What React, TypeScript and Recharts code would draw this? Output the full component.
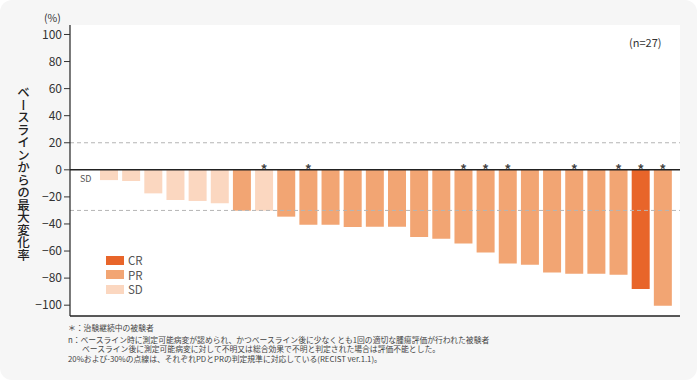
import React from 'react'
import { BarChart, Bar, XAxis, YAxis, CartesianGrid, ReferenceLine, Cell, LabelList } from 'recharts'

const patients = ['1', '2', '3', '4', '5', '6', '7', '8', '9', '10', '11', '12', '13', '14', '15', '16', '17', '18', '19', '20', '21', '22', '23', '24', '25', '26']
const maxChange = [-7.6, -8.3, -17.4, -22.3, -23, -24.7, -30.2, -30.2, -34.6, -40.5, -40.5, -42.2, -42, -42, -49.6, -51, -54.5, -61.1, -69.2, -70.2, -75.8, -76.8, -76.8, -77.5, -88, -100.4]
const response = ['SD', 'SD', 'SD', 'SD', 'SD', 'SD', 'PR', 'SD', 'PR', 'PR', 'PR', 'PR', 'PR', 'PR', 'PR', 'PR', 'PR', 'PR', 'PR', 'PR', 'PR', 'PR', 'PR', 'PR', 'CR', 'PR']
const ongoing = [false, false, false, false, false, false, false, true, false, true, false, false, false, false, false, false, true, true, true, false, false, true, false, true, true, true]
const yTicks = [100, 80, 60, 40, 20, 0, -20, -40, -60, -80, -100]
const legendItems = ['CR', 'PR', 'SD']

const colors: Record<string, string> = {
  CR: '#e8652a',
  PR: '#f2a573',
  SD: '#fbd7c0',
}

const data = patients.map((id, i) => ({
  id,
  value: maxChange[i],
  response: response[i],
  mark: ongoing[i] ? '*' : '',
}))

const font = '"Noto Sans CJK JP", "Noto Sans", sans-serif'

function Asterisk(props: any) {
  const { x, y, width, height, value } = props
  if (!value) return null
  const top = Math.min(y, y + height)
  return (
    <text x={x + width / 2} y={top + 4} textAnchor="middle" fontSize={13} fontWeight={700} fill="#444" fontFamily={font}>
      *
    </text>
  )
}

export default function App() {
  return (
    <div style={{ position: 'absolute', left: 0, top: 0, width: 700, height: 382, background: '#fff', fontFamily: font }}>
      <div style={{ position: 'absolute', left: 0, top: 0, width: 697, height: 380, background: '#f6f6f6', borderRadius: 12 }} />
      <BarChart width={700} height={382} data={data} margin={{ top: 25, right: 20, bottom: 36, left: 0 }} style={{ position: 'absolute', left: 0, top: 0 }}>
        <CartesianGrid fill="#fff" horizontal={false} vertical={false} stroke="none" />
        <XAxis dataKey="id" tick={false} tickLine={false} axisLine={{ stroke: '#222', strokeWidth: 1.5 }} padding={{ left: 28, right: 6 }} height={30} />
        <YAxis
          domain={[-108, 107]}
          ticks={yTicks}
          interval={0}
          width={70}
          tickSize={6}
          tickLine={{ stroke: '#333' }}
          axisLine={{ stroke: '#222', strokeWidth: 1.2 }}
          tick={{ fontSize: 12, fill: '#333', fontFamily: font }}
          tickFormatter={(v: number) => (v < 0 ? '\u2212' + Math.abs(v) : String(v))}
        />
        <ReferenceLine y={20} stroke="#b5b5b5" strokeDasharray="4 3" />
        <ReferenceLine y={-30} stroke="#b5b5b5" strokeDasharray="4 3" />
        <Bar dataKey="value" barSize={18} isAnimationActive={false}>
          {data.map((d) => (
            <Cell key={d.id} fill={colors[d.response]} />
          ))}
          <LabelList dataKey="mark" content={Asterisk} />
        </Bar>
        <ReferenceLine y={0} stroke="#222" strokeWidth={1.5} />
      </BarChart>
      <div style={{ position: 'absolute', left: 106, top: 253 }}>
        {legendItems.map((k) => (
          <div key={k} style={{ display: 'flex', alignItems: 'center', height: 14.5 }}>
            <span style={{ width: 18, height: 9, background: colors[k], display: 'inline-block', marginRight: 4 }} />
            <span style={{ fontSize: 11.5, color: '#555', lineHeight: '12px' }}>{k}</span>
          </div>
        ))}
      </div>
      <div style={{ position: 'absolute', left: 44, top: 11, fontSize: 10.5, lineHeight: '13px', color: '#333' }}>(%)</div>
      <div style={{ position: 'absolute', left: 629, top: 34, fontSize: 11, color: '#333' }}>(n=27)</div>
      <div style={{ position: 'absolute', left: 80, top: 172, fontSize: 9, color: '#555' }}>SD</div>
      <div
        style={{
          position: 'absolute',
          left: 15,
          top: 86,
          writingMode: 'vertical-rl',
          fontSize: 12.5,
          fontWeight: 500,
          color: '#222',
          lineHeight: '16px',
        }}
      >
        ベースラインからの最大変化率
      </div>
      <div style={{ position: 'absolute', left: 68, top: 323, fontSize: 7.8, color: '#444', lineHeight: '9.6px' }}>
        <div style={{ marginBottom: 2 }}>＊：治験継続中の被験者</div>
        <div>n：ベースライン時に測定可能病変が認められ、かつベースライン後に少なくとも1回の適切な腫瘍評価が行われた被験者</div>
        <div style={{ paddingLeft: 14 }}>ベースライン後に測定可能病変に対して不明又は総合効果で不明と判定された場合は評価不能とした。</div>
        <div>20%および-30%の点線は、それぞれPDとPRの判定規準に対応している(RECIST ver.1.1)。</div>
      </div>
    </div>
  )
}
